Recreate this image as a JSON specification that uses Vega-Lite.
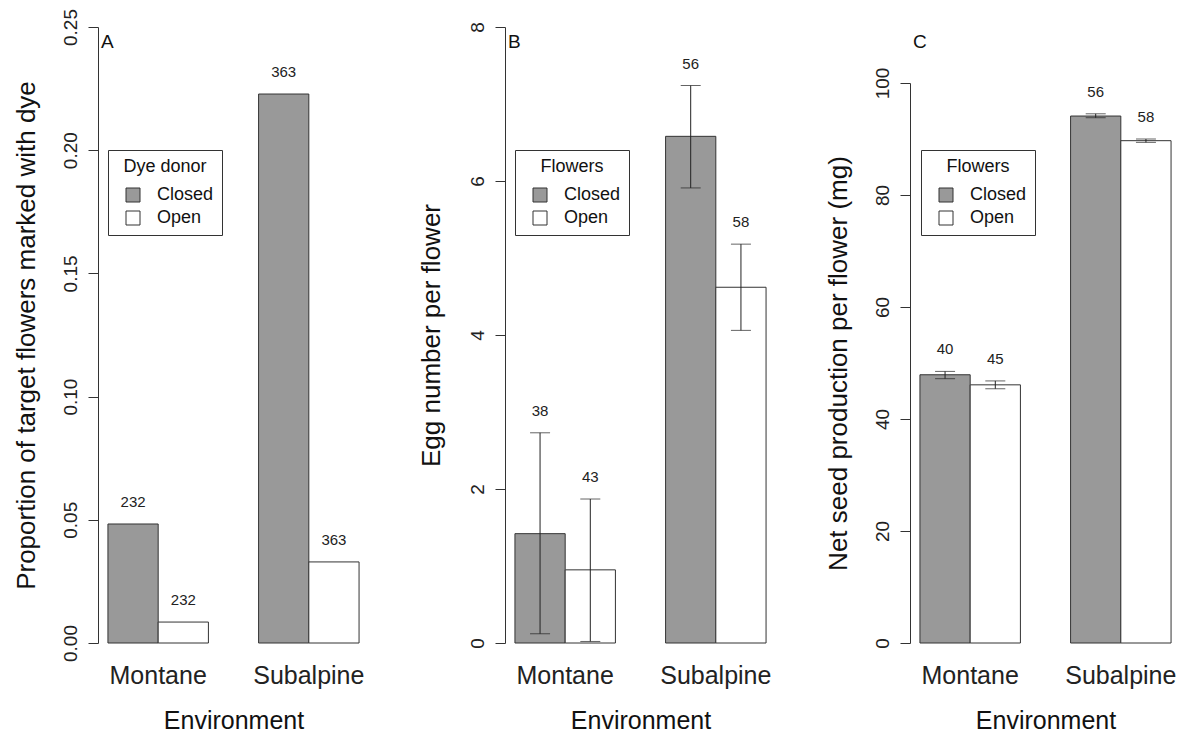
{
  "$schema": "https://vega.github.io/schema/vega-lite/v6.json",
  "background": "white",
  "padding": {"left": 12, "top": 8, "right": 0, "bottom": 0},
  "config": {
    "font": "Liberation Sans",
    "view": {"stroke": null},
    "axis": {"grid": false, "domainColor": "#333333", "tickColor": "#333333", "labelColor": "#222222", "titleColor": "#111111", "titleFontWeight": "normal", "labelFont": "Liberation Sans", "titleFont": "Liberation Sans"},
    "legend": {"orient": "none", "legendX": 10, "legendY": 142, "strokeColor": "#333333", "fillColor": "white", "padding": 8, "symbolOffset": 8, "symbolType": "square", "symbolSize": 196, "symbolStrokeColor": "#333333", "symbolStrokeWidth": 1, "labelFontSize": 18, "titleFontSize": 18, "titleFontWeight": "normal", "titleAnchor": "middle", "labelOffset": 15, "rowPadding": 5, "titlePadding": 10, "labelColor": "#111111", "titleColor": "#111111"},
    "title": {"fontSize": 19, "fontWeight": "normal", "color": "#111111", "anchor": "start", "frame": "group", "dx": 3, "baseline": "middle", "offset": -44}
  },
  "datasets": {
    "a": [
      {"Environment": "Montane", "Flowers": "Closed", "value": 0.0483, "n": "232"},
      {"Environment": "Montane", "Flowers": "Open", "value": 0.0085, "n": "232"},
      {"Environment": "Subalpine", "Flowers": "Closed", "value": 0.2228, "n": "363"},
      {"Environment": "Subalpine", "Flowers": "Open", "value": 0.0329, "n": "363"}
    ],
    "b": [
      {"Environment": "Montane", "Flowers": "Closed", "value": 1.42, "lo": 0.12, "hi": 2.73, "n": "38"},
      {"Environment": "Montane", "Flowers": "Open", "value": 0.95, "lo": 0.02, "hi": 1.87, "n": "43"},
      {"Environment": "Subalpine", "Flowers": "Closed", "value": 6.58, "lo": 5.91, "hi": 7.24, "n": "56"},
      {"Environment": "Subalpine", "Flowers": "Open", "value": 4.62, "lo": 4.06, "hi": 5.18, "n": "58"}
    ],
    "c": [
      {"Environment": "Montane", "Flowers": "Closed", "value": 47.9, "lo": 47.2, "hi": 48.5, "n": "40"},
      {"Environment": "Montane", "Flowers": "Open", "value": 46.1, "lo": 45.4, "hi": 46.8, "n": "45"},
      {"Environment": "Subalpine", "Flowers": "Closed", "value": 94.1, "lo": 93.8, "hi": 94.5, "n": "56"},
      {"Environment": "Subalpine", "Flowers": "Open", "value": 89.7, "lo": 89.4, "hi": 90.0, "n": "58"}
    ]
  },
  "spacing": 49,
  "resolve": {"scale": {"fill": "independent", "y": "independent", "x": "independent", "xOffset": "independent"}, "legend": {"fill": "independent"}},
  "hconcat": [
    {
      "width": 271, "height": 635,
      "title": {"text": "A"},
      "data": {"name": "a"},
      "encoding": {
        "x": {"field": "Environment", "type": "nominal", "sort": ["Montane", "Subalpine"], "scale": {"paddingInner": 0.333, "paddingOuter": 0.066}, "title": "Environment",
          "axis": {"domain": false, "ticks": false, "tickSize": 0, "labelAngle": 0, "labelFontSize": 25, "labelPadding": 20, "titleFontSize": 25, "titlePadding": 20}},
        "xOffset": {"field": "Flowers", "type": "nominal", "sort": ["Closed", "Open"], "scale": {"paddingInner": 0, "paddingOuter": 0}}
      },
      "layer": [
        {
          "mark": {"type": "bar", "stroke": "#333333", "strokeWidth": 1},
          "encoding": {
            "y": {"field": "value", "type": "quantitative", "title": "Proportion of target flowers marked with dye",
              "scale": {"domain": [0, 0.25], "range": [635, 19], "nice": false},
              "axis": {"values": [0, 0.05, 0.1, 0.15, 0.2, 0.25], "format": ".2f", "labelAngle": -90, "labelAlign": "center", "labelBaseline": "alphabetic", "labelFontSize": 19, "labelPadding": 12, "tickSize": 10, "titleFontSize": 26, "titlePadding": 22}},
            "fill": {"field": "Flowers", "type": "nominal", "scale": {"domain": ["Closed", "Open"], "range": ["#999999", "#ffffff"]}, "legend": {"title": "Dye donor"}}
          }
        },
        {
          "mark": {"type": "text", "dy": -22, "fontSize": 15, "color": "#222222", "align": "center", "baseline": "middle"},
          "encoding": {
            "y": {"field": "value", "type": "quantitative", "title": "Proportion of target flowers marked with dye"},
            "text": {"field": "n"}
          }
        }
      ]
    },
    {
      "width": 271, "height": 635,
      "title": {"text": "B"},
      "data": {"name": "b"},
      "encoding": {
        "x": {"field": "Environment", "type": "nominal", "sort": ["Montane", "Subalpine"], "scale": {"paddingInner": 0.333, "paddingOuter": 0.066}, "title": "Environment",
          "axis": {"domain": false, "ticks": false, "tickSize": 0, "labelAngle": 0, "labelFontSize": 25, "labelPadding": 20, "titleFontSize": 25, "titlePadding": 20}},
        "xOffset": {"field": "Flowers", "type": "nominal", "sort": ["Closed", "Open"], "scale": {"paddingInner": 0, "paddingOuter": 0}}
      },
      "layer": [
        {
          "mark": {"type": "bar", "stroke": "#333333", "strokeWidth": 1},
          "encoding": {
            "y": {"field": "value", "type": "quantitative", "title": "Egg number per flower",
              "scale": {"domain": [0, 8], "range": [635, 19], "nice": false},
              "axis": {"values": [0, 2, 4, 6, 8], "format": "d", "labelAngle": -90, "labelAlign": "center", "labelBaseline": "alphabetic", "labelFontSize": 19, "labelPadding": 12, "tickSize": 10, "titleFontSize": 26, "titlePadding": 24}},
            "fill": {"field": "Flowers", "type": "nominal", "scale": {"domain": ["Closed", "Open"], "range": ["#999999", "#ffffff"]}, "legend": {"title": "Flowers"}}
          }
        },
        {
          "mark": {"type": "rule", "color": "#222222", "strokeWidth": 1},
          "encoding": {
            "y": {"field": "lo", "type": "quantitative", "title": "Egg number per flower"},
            "y2": {"field": "hi"}
          }
        },
        {
          "mark": {"type": "tick", "color": "#222222", "size": 20, "thickness": 1, "orient": "horizontal"},
          "encoding": {"y": {"field": "lo", "type": "quantitative", "title": "Egg number per flower"}}
        },
        {
          "mark": {"type": "tick", "color": "#222222", "size": 20, "thickness": 1, "orient": "horizontal"},
          "encoding": {"y": {"field": "hi", "type": "quantitative", "title": "Egg number per flower"}}
        },
        {
          "mark": {"type": "text", "dy": -22, "fontSize": 15, "color": "#222222", "align": "center", "baseline": "middle"},
          "encoding": {
            "y": {"field": "hi", "type": "quantitative", "title": "Egg number per flower"},
            "text": {"field": "n"}
          }
        }
      ]
    },
    {
      "width": 271, "height": 635,
      "title": {"text": "C"},
      "data": {"name": "c"},
      "encoding": {
        "x": {"field": "Environment", "type": "nominal", "sort": ["Montane", "Subalpine"], "scale": {"paddingInner": 0.333, "paddingOuter": 0.066}, "title": "Environment",
          "axis": {"domain": false, "ticks": false, "tickSize": 0, "labelAngle": 0, "labelFontSize": 25, "labelPadding": 20, "titleFontSize": 25, "titlePadding": 20}},
        "xOffset": {"field": "Flowers", "type": "nominal", "sort": ["Closed", "Open"], "scale": {"paddingInner": 0, "paddingOuter": 0}}
      },
      "layer": [
        {
          "mark": {"type": "bar", "stroke": "#333333", "strokeWidth": 1},
          "encoding": {
            "y": {"field": "value", "type": "quantitative", "title": "Net seed production per flower (mg)",
              "scale": {"domain": [0, 100], "range": [635, 75], "nice": false},
              "axis": {"values": [0, 20, 40, 60, 80, 100], "format": "d", "labelAngle": -90, "labelAlign": "center", "labelBaseline": "alphabetic", "labelFontSize": 19, "labelPadding": 12, "tickSize": 10, "titleFontSize": 26, "titlePadding": 22}},
            "fill": {"field": "Flowers", "type": "nominal", "scale": {"domain": ["Closed", "Open"], "range": ["#999999", "#ffffff"]}, "legend": {"title": "Flowers", "legendX": 11}}
          }
        },
        {
          "mark": {"type": "rule", "color": "#222222", "strokeWidth": 1},
          "encoding": {
            "y": {"field": "lo", "type": "quantitative", "title": "Net seed production per flower (mg)"},
            "y2": {"field": "hi"}
          }
        },
        {
          "mark": {"type": "tick", "color": "#222222", "size": 20, "thickness": 1, "orient": "horizontal"},
          "encoding": {"y": {"field": "lo", "type": "quantitative", "title": "Net seed production per flower (mg)"}}
        },
        {
          "mark": {"type": "tick", "color": "#222222", "size": 20, "thickness": 1, "orient": "horizontal"},
          "encoding": {"y": {"field": "hi", "type": "quantitative", "title": "Net seed production per flower (mg)"}}
        },
        {
          "mark": {"type": "text", "dy": -22, "fontSize": 15, "color": "#222222", "align": "center", "baseline": "middle"},
          "encoding": {
            "y": {"field": "hi", "type": "quantitative", "title": "Net seed production per flower (mg)"},
            "text": {"field": "n"}
          }
        }
      ]
    }
  ]
}
